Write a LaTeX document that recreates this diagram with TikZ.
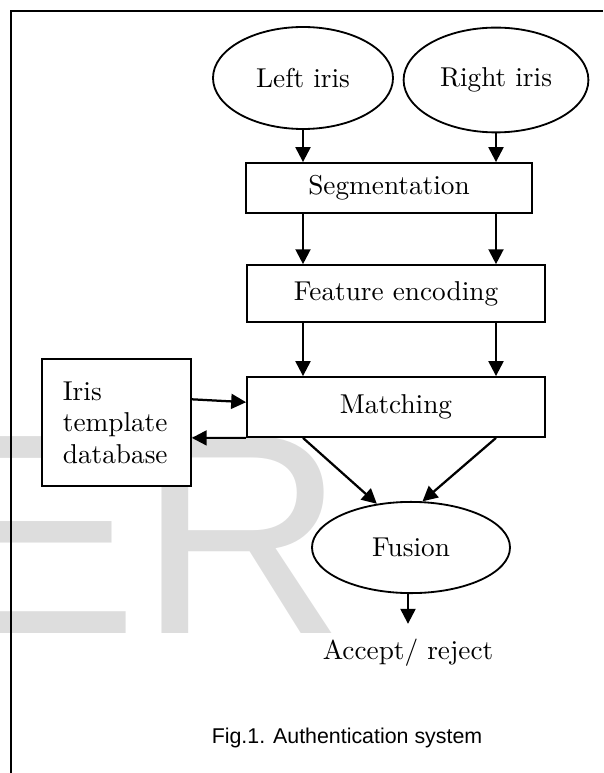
\documentclass[tikz,border=0pt]{standalone}
\usepackage{fontspec}
\usetikzlibrary{arrows.meta,shapes.geometric}
\newfontfamily\arialfont{Liberation Sans}
\definecolor{markgray}{RGB}{221,221,221}

\begin{document}
\begin{tikzpicture}[x=0.125mm, y=-0.125mm,
    box/.style={draw, line width=0.65pt, fill=white, inner sep=0pt},
    oval/.style={ellipse, draw, line width=0.65pt, fill=white, inner sep=0pt},
    flow/.style={line width=0.8pt, -{Triangle[width=5.3pt,length=5.3pt]}},
    font=\fontsize{9.7}{11.2}\selectfont]
    % Page size
    \useasboundingbox (0,0) rectangle (603,773);

    % Grey letters in the background
    \begin{scope}
        \clip (0,0) rectangle (603,773);
        \node[anchor=base west, inner sep=0pt, text=markgray,
              font=\arialfont\fontsize{101.8}{102}\selectfont] (mark) at (-53,633) {ER};
    \end{scope}

    % Frame
    \draw[line width=0.8pt] (11,773) -- (11,11) -- (603,11);

    % Both eyes
    \node[oval, minimum width=22.5mm, minimum height=12.75mm] (lir) at (303,78) {Left iris};
    \node[oval, minimum width=23.1mm, minimum height=13.1mm] (rir) at (496,80) {Right iris};

    % Processing steps
    \node[box, minimum width=35.75mm, minimum height=6.25mm] (seg) at (389,188) {Segmentation};
    \node[box, minimum width=37.25mm, minimum height=7.1mm] (feat) at (396,293.5) {Feature encoding};
    \node[box, minimum width=37.25mm, minimum height=7.5mm] (match) at (396,407) {Matching};
    \node[box, minimum width=18.6mm, minimum height=15.9mm, inner xsep=2.6mm,
          text width=13.4mm, align=left] (db) at (116.5,422.5) {Iris\\template\\database};

    % Decision
    \node[oval, minimum width=24.75mm, minimum height=11.4mm] (fus) at (411,547.5) {Fusion};
    \node (acc) at (408,653) {Accept/ reject};

    % Caption
    \node[font=\arialfont\fontsize{7.6}{9}\selectfont] (cap) at (347,738) {Fig.1. Authentication system};

    % Two parallel streams
    \foreach \eye in {lir,rir} {
        \draw[flow] (\eye.south) -- (seg.north -| \eye.south);
        \draw[flow] (seg.south -| \eye.south) -- (feat.north -| \eye.south);
        \draw[flow] (feat.south -| \eye.south) -- (match.north -| \eye.south);
    }

    % Template lookup
    \draw[flow] ([yshift=2.9mm]db.east) -- ([yshift=0.6mm]match.west);
    \draw[flow] (match.south west) -- (match.south west -| db.east);

    % Scores into fusion
    \draw[flow] (match.south -| lir.south) -- (fus.128);
    \draw[flow] (match.south -| rir.south) -- (fus.76);
    \draw[flow] (fus.south -| acc.north) -- ([yshift=0.7mm]acc.north);
\end{tikzpicture}
\end{document}
